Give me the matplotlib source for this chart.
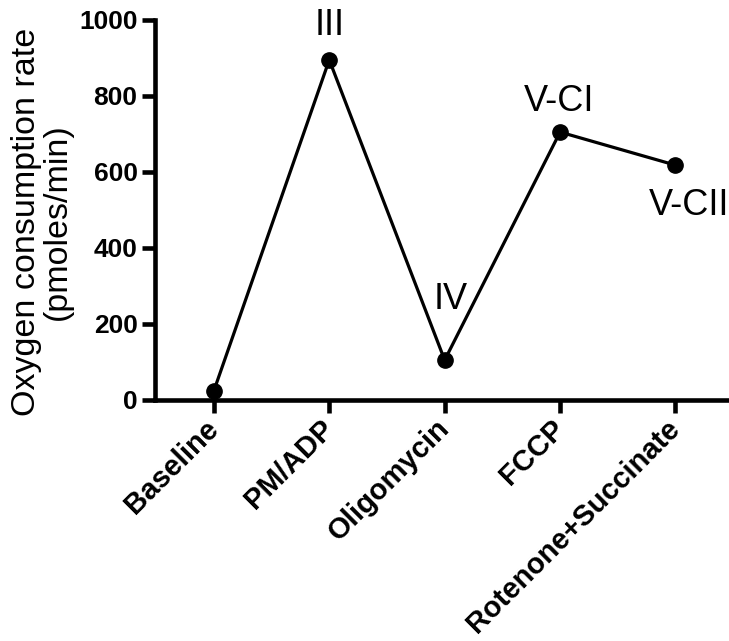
import matplotlib
matplotlib.use('Agg')
from matplotlib import pyplot as plt

# oxygen consumption per injection step
steps = ['Baseline', 'PM/ADP', 'Oligomycin', 'FCCP', 'Rotenone+Succinate']
ocr = [24, 895, 105, 705, 618]
states = ['', 'III', 'IV', 'V-CI', 'V-CII']

plt.rcParams['font.family'] = ['Liberation Sans', 'DejaVu Sans']

fig = plt.figure(figsize=(7.29, 6.41), dpi=100)
ax = fig.add_axes([0.2126, 0.376, 0.79, 0.5928])

x = list(range(len(steps)))
ax.plot(x, ocr, color='black', lw=2.3, marker='o', ms=11, zorder=3, clip_on=False)

# state labels next to each point (offsets in points)
label_off = [(0, 0), (0, 18), (4, 37), (-1, 15), (9.5, -36)]
for i in range(1, len(steps)):
    ax.annotate(states[i], (x[i], ocr[i]), xytext=label_off[i],
                textcoords='offset points', ha='center', va='baseline',
                fontsize=26, annotation_clip=False)

ax.set_xlim(-0.51, 4.48)
ax.set_ylim(0, 1000)
ax.set_yticks([0, 200, 400, 600, 800, 1000])
ax.set_xticks(x)
ax.set_xticklabels(steps, rotation=45, ha='right', va='center',
                   rotation_mode='anchor', fontsize=21, fontweight='bold')
for lab in ax.get_yticklabels():
    lab.set_fontsize(19)
    lab.set_fontweight('bold')

ax.spines['top'].set_visible(False)
ax.spines['right'].set_visible(False)
for s in ['left', 'bottom']:
    ax.spines[s].set_linewidth(3.3)
ax.tick_params(direction='out', length=9.5, width=3.3, pad=3)
ax.tick_params(axis='x', pad=8)

ax.set_ylabel('Oxygen consumption rate\n(pmoles/min)', fontsize=24.5,
              linespacing=1.0)
ax.yaxis.set_label_coords(-0.142, 0.47)

fig.savefig('out.png', dpi=100)
